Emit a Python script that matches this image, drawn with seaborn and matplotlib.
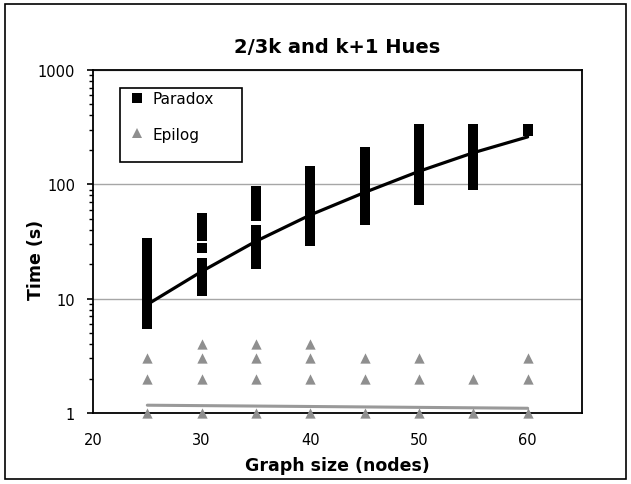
import matplotlib
matplotlib.use("Agg")
import matplotlib.pyplot as plt
from matplotlib.lines import Line2D
from matplotlib.patches import Rectangle
from matplotlib.ticker import FixedLocator, LogLocator, NullFormatter
import numpy as np
import pandas as pd
import seaborn as sns

# Graph sizes (nodes) used by both solvers
SIZES = [25, 30, 35, 40, 45, 50, 55, 60]

# Paradox run times (s), one list per graph size
PARADOX_25 = [6.0, 6.8, 7.7, 8.7, 9.8, 11.0, 12.2, 14.3, 16.0, 18.0, 20.5, 23.0, 26.0, 28.5, 30.6]
PARADOX_30 = [11.7, 13.2, 14.8, 16.5, 18.5, 20.5, 28.0, 35.5, 40.0, 45.0, 50.8]
PARADOX_35 = [19.9, 22.5, 25.5, 28.5, 32.0, 35.5, 39.8, 53.0, 59.0, 66.0, 74.0, 82.0, 87.0]
PARADOX_40 = [32, 36, 40, 45, 50, 56, 63, 70, 79, 88, 98, 110, 122, 131]
PARADOX_45 = [48.8, 54, 60, 67, 75, 84, 94, 105, 120, 134, 150, 168, 193]
PARADOX_50 = [72.5, 81, 90, 100, 112, 125, 140, 157, 176, 197, 220, 246, 275, 307]
PARADOX_55 = [98, 110, 123, 138, 155, 174, 195, 218, 244, 273, 307]
PARADOX_60 = [292, 305]
PARADOX_RUNS = [PARADOX_25, PARADOX_30, PARADOX_35, PARADOX_40,
                PARADOX_45, PARADOX_50, PARADOX_55, PARADOX_60]

# Epilog run times (s)
EPILOG_RUNS = [
    [1, 2, 3],
    [1, 2, 3, 4],
    [1, 2, 3, 4],
    [1, 2, 3, 4],
    [1, 2, 3],
    [1, 2, 3],
    [1, 2],
    [1, 2, 3],
]

# Trend lines as drawn on the chart
PARADOX_TREND = [8.9, 17.3, 31.8, 54, 85, 130, 189, 260]
EPILOG_TREND = [1.17, 1.16, 1.15, 1.14, 1.13, 1.12, 1.11, 1.10]

Y_TICKS = [1, 10, 100, 1000]
X_TICKS = [20, 30, 40, 50, 60]

GREY = "#8f8f8f"


def long_frame(runs):
    rows = [(size, t) for size, times in zip(SIZES, runs) for t in times]
    return pd.DataFrame(rows, columns=["size", "time"])


def main():
    sns.set_style("white")
    plt.rcParams["font.family"] = ["DejaVu Sans"]
    plt.rcParams.update({
        "text.color": "black",
        "axes.labelcolor": "black",
        "xtick.color": "black",
        "ytick.color": "black",
    })

    paradox = long_frame(PARADOX_RUNS)
    epilog = long_frame(EPILOG_RUNS)

    fig = plt.figure(figsize=(6.31, 4.85), dpi=100)
    ax = fig.add_axes([93 / 631, 1 - 414 / 485, 489 / 631, 343 / 485])

    sns.scatterplot(data=paradox, x="size", y="time", marker="s", s=44,
                    color="black", linewidth=0, legend=False, ax=ax, zorder=3)
    sns.scatterplot(data=epilog, x="size", y="time", marker="^", s=55,
                    color=GREY, linewidth=0, legend=False, ax=ax, zorder=3,
                    clip_on=False)
    sns.lineplot(x=SIZES, y=PARADOX_TREND, color="black", linewidth=2.3,
                 ax=ax, zorder=4)
    sns.lineplot(x=SIZES, y=EPILOG_TREND, color="#999999", linewidth=2.2,
                 ax=ax, zorder=4)

    ax.set_yscale("log")
    ax.set_ylim(1, 1000)
    ax.set_xlim(20, 65)

    ax.yaxis.set_major_locator(FixedLocator(Y_TICKS))
    ax.set_yticklabels([str(v) for v in Y_TICKS])
    ax.yaxis.set_minor_locator(LogLocator(base=10, subs=np.arange(2, 10)))
    ax.yaxis.set_minor_formatter(NullFormatter())
    ax.set_xticks(X_TICKS)
    ax.set_xticklabels([str(v) for v in X_TICKS])

    ax.tick_params(axis="y", which="major", direction="out", length=4,
                   width=1.2, pad=9, labelsize=10.5, left=True)
    ax.tick_params(axis="y", which="minor", direction="out", length=3,
                   width=1, left=True)
    ax.tick_params(axis="x", length=0, pad=14, labelsize=10.5)

    ax.grid(axis="y", which="major", color="#a6a6a6", linewidth=1)
    ax.grid(axis="x", visible=False)
    for spine in ax.spines.values():
        spine.set_color("black")
        spine.set_linewidth(1.3)

    ax.set_title("2/3k and k+1 Hues", fontsize=14, fontweight="bold", pad=13)
    ax.set_xlabel("Graph size (nodes)", fontsize=12.5, fontweight="bold")
    ax.set_ylabel("Time (s)", fontsize=12.5, fontweight="bold")
    ax.xaxis.set_label_coords(0.5, -0.125)
    ax.yaxis.set_label_coords(-0.098, 0.45)

    # legend: frameless entries inside a drawn box
    handles = [
        Line2D([], [], linestyle="none", marker="s", markersize=7,
               markerfacecolor="black", markeredgewidth=0),
        Line2D([], [], linestyle="none", marker="^", markersize=7,
               markerfacecolor=GREY, markeredgewidth=0),
    ]
    ax.legend(handles, ["Paradox", "Epilog"], loc="upper left",
              bbox_to_anchor=(0.075, 0.939), frameon=False, borderpad=0,
              borderaxespad=0, handlelength=1.0, handletextpad=0.5,
              labelspacing=1.35, fontsize=11)
    ax.add_patch(Rectangle((0.055, 0.732), 0.25, 0.2155, transform=ax.transAxes,
                           fill=False, edgecolor="black", linewidth=1.2,
                           zorder=5))

    # outer chart border
    fig.add_artist(Rectangle((5 / 631, 5 / 485), 621 / 631, 475 / 485,
                             transform=fig.transFigure, fill=False,
                             edgecolor="black", linewidth=1.2))

    fig.savefig("out.png", dpi=100)
    plt.close(fig)


if __name__ == "__main__":
    main()
